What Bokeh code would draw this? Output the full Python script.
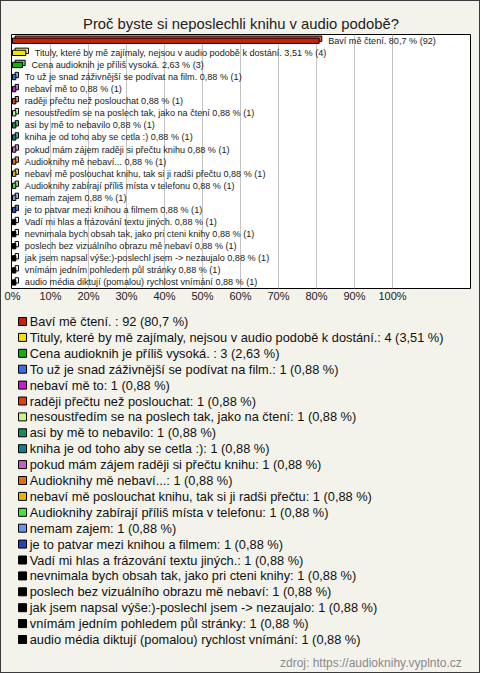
from bokeh.plotting import figure
from bokeh.layouts import column
from bokeh.models import Range1d, FixedTicker, PrintfTickFormatter, ColumnDataSource
from bokeh.core.properties import value
from bokeh.embed import file_html
from bokeh.resources import INLINE

title_text = "Proč byste si neposlechli knihu v audio podobě?"
source_text = "zdroj: https://audioknihy.vyplnto.cz"

answers = [
    "Baví mě čtení. ",
    "Tituly, které by mě zajímaly, nejsou v audio podobě k dostání.",
    "Cena audioknih je příliš vysoká. ",
    "To už je snad záživnější se podívat na film.",
    "nebaví mě to",
    "raději přečtu než poslouchat",
    "nesoustředím se na poslech tak, jako na čtení",
    "asi by mě  to nebavilo",
    "kniha je od toho aby se cetla :)",
    "pokud mám zájem raději si přečtu knihu",
    "Audioknihy mě nebaví...",
    "nebaví mě poslouchat knihu, tak si ji radši přečtu",
    "Audioknihy zabírají příliš místa v telefonu",
    "nemam zajem",
    "je to patvar mezi knihou a filmem",
    "Vadí mi hlas a frázování textu jiných.",
    "nevnimala bych obsah tak, jako pri cteni knihy",
    "poslech bez vizuálního obrazu mě nebaví",
    "jak jsem napsal výše:)-poslechl jsem -> nezaujalo",
    "vnímám jedním pohledem půl stránky",
    "audio média diktují (pomalou) rychlost vnímání",
]
counts = [92, 4, 3] + [1] * 18
percents = [80.7, 3.51, 2.63] + [0.88] * 18
colors = [
    "#c4220f", "#f2e20a", "#14b014", "#3c6ee6", "#c41ed2", "#e2400e",
    "#c6f48a", "#129058", "#10808e", "#c462c4", "#e27010", "#e8b400",
    "#44e444", "#6a96e4", "#2444b4",
    "#000000", "#000000", "#000000", "#000000", "#000000", "#000000",
]
top_colors = [
    "#e85a40", "#fff27a", "#5cd85c", "#8aaaf2", "#e078ea", "#f08a60",
    "#e2fcc4", "#5cc090", "#5cb8c4", "#e0a2e0", "#f4aa66", "#f4d866",
    "#9af29a", "#a8c2f2", "#7088d8",
    "#ffffff", "#ffffff", "#ffffff", "#ffffff", "#ffffff", "#ffffff",
]
ticks = [0, 10, 20, 30, 40, 50, 60, 70, 80, 90, 100]

BG = "#f3f3eb"
W = 478
H1 = 312
H2 = 359

def fmt(v):
    return str(v).replace(".", ",")

n = len(answers)
rows = list(range(n))
bar_labels = [f"{a} {fmt(p)} % ({c})" for a, p, c in zip(answers, percents, counts)]
legend_labels = [f"{a}: {c} ({fmt(p)} %)" for a, p, c in zip(answers, percents, counts)]

h = 0.44
dx = 0.7
dy = 0.17
src = ColumnDataSource(dict(
    y=rows, pct=percents, color=colors, top=top_colors, label=bar_labels,
    left=[0.0] * n,
    f_top=[r - h / 2 for r in rows], f_bot=[r + h / 2 for r in rows],
    b_left=[dx] * n, b_right=[p + dx for p in percents],
    b_top=[r - h / 2 - dy for r in rows], b_bot=[r + h / 2 - dy for r in rows],
))

p1 = figure(width=W, height=H1, output_backend="svg", toolbar_location=None,
            x_range=Range1d(-0.26, 120.53), y_range=Range1d(20.5, -0.52),
            min_border_left=10, min_border_right=9, min_border_top=33, min_border_bottom=25,
            background_fill_color="white", border_fill_color=BG,
            outline_line_color="black", outline_line_width=1,
            title=title_text)
p1.title.align = "center"
p1.title.text_font = "Liberation Sans"
p1.title.text_font_size = "14.8px"
p1.title.text_font_style = "normal"
p1.title.text_color = "#222222"
p1.title.standoff = 6

p1.yaxis.visible = False
p1.ygrid.visible = False
p1.xaxis.ticker = FixedTicker(ticks=ticks)
p1.xaxis.formatter = PrintfTickFormatter(format="%d%%")
p1.xaxis.axis_line_color = None
p1.xaxis.major_tick_line_color = None
p1.xaxis.minor_tick_line_color = None
p1.xaxis.major_tick_out = 0
p1.xaxis.major_tick_in = 0
p1.xaxis.major_label_standoff = 1
p1.xaxis.major_label_text_font = "Liberation Sans"
p1.xaxis.major_label_text_font_size = "11px"
p1.xaxis.major_label_text_color = "#222222"
p1.xgrid.ticker = FixedTicker(ticks=ticks[1:])
p1.xgrid.grid_line_color = "#c4c4c4"
p1.xgrid.grid_line_width = 1

p1.quad(left="b_left", right="b_right", top="b_top", bottom="b_bot", source=src,
        fill_color="top", line_color="black", line_width=1)
p1.quad(left="left", right="pct", top="f_top", bottom="f_bot", source=src,
        fill_color="color", line_color="black", line_width=1)
p1.text(x="pct", y="y", text="label", source=src, x_offset=9,
        text_font=value("Liberation Sans"), text_font_size="9.1px",
        text_baseline="middle", text_align="left", text_color="#1a1a1a")

# legend figure
first = 8.0
step = 15.9
p2 = figure(width=W, height=H2, output_backend="svg", toolbar_location=None,
            x_range=Range1d(0, W), y_range=Range1d((H2 - first) / step, -first / step),
            min_border=0, x_axis_location=None, y_axis_location=None,
            background_fill_color=BG, border_fill_color=BG, outline_line_color=None)
p2.xgrid.visible = False
p2.ygrid.visible = False
lsrc = ColumnDataSource(dict(y=rows, color=colors, label=legend_labels,
                             sx=[11.5] * n, tx=[19.0] * n))
p2.scatter(x="sx", y="y", source=lsrc, marker="square", size=8,
           fill_color="color", line_color="black", line_width=1)
p2.text(x="tx", y="y", text="label", source=lsrc,
        text_font=value("Liberation Sans"), text_font_size="12.8px",
        text_baseline="middle", text_align="left", text_color="#111111")
ssrc = ColumnDataSource(dict(x=[W - 9], y=[(349 - first) / step], t=[source_text]))
p2.text(x="x", y="y", text="t", source=ssrc,
        text_font=value("Liberation Sans"), text_font_size="12px",
        text_baseline="middle", text_align="right", text_color="#8a8a8a")

layout = column(p1, p2, spacing=0,
                styles={"border": "1px solid #3a3a3a", "background-color": BG})
open("out.html", "w").write(file_html(layout, INLINE))
